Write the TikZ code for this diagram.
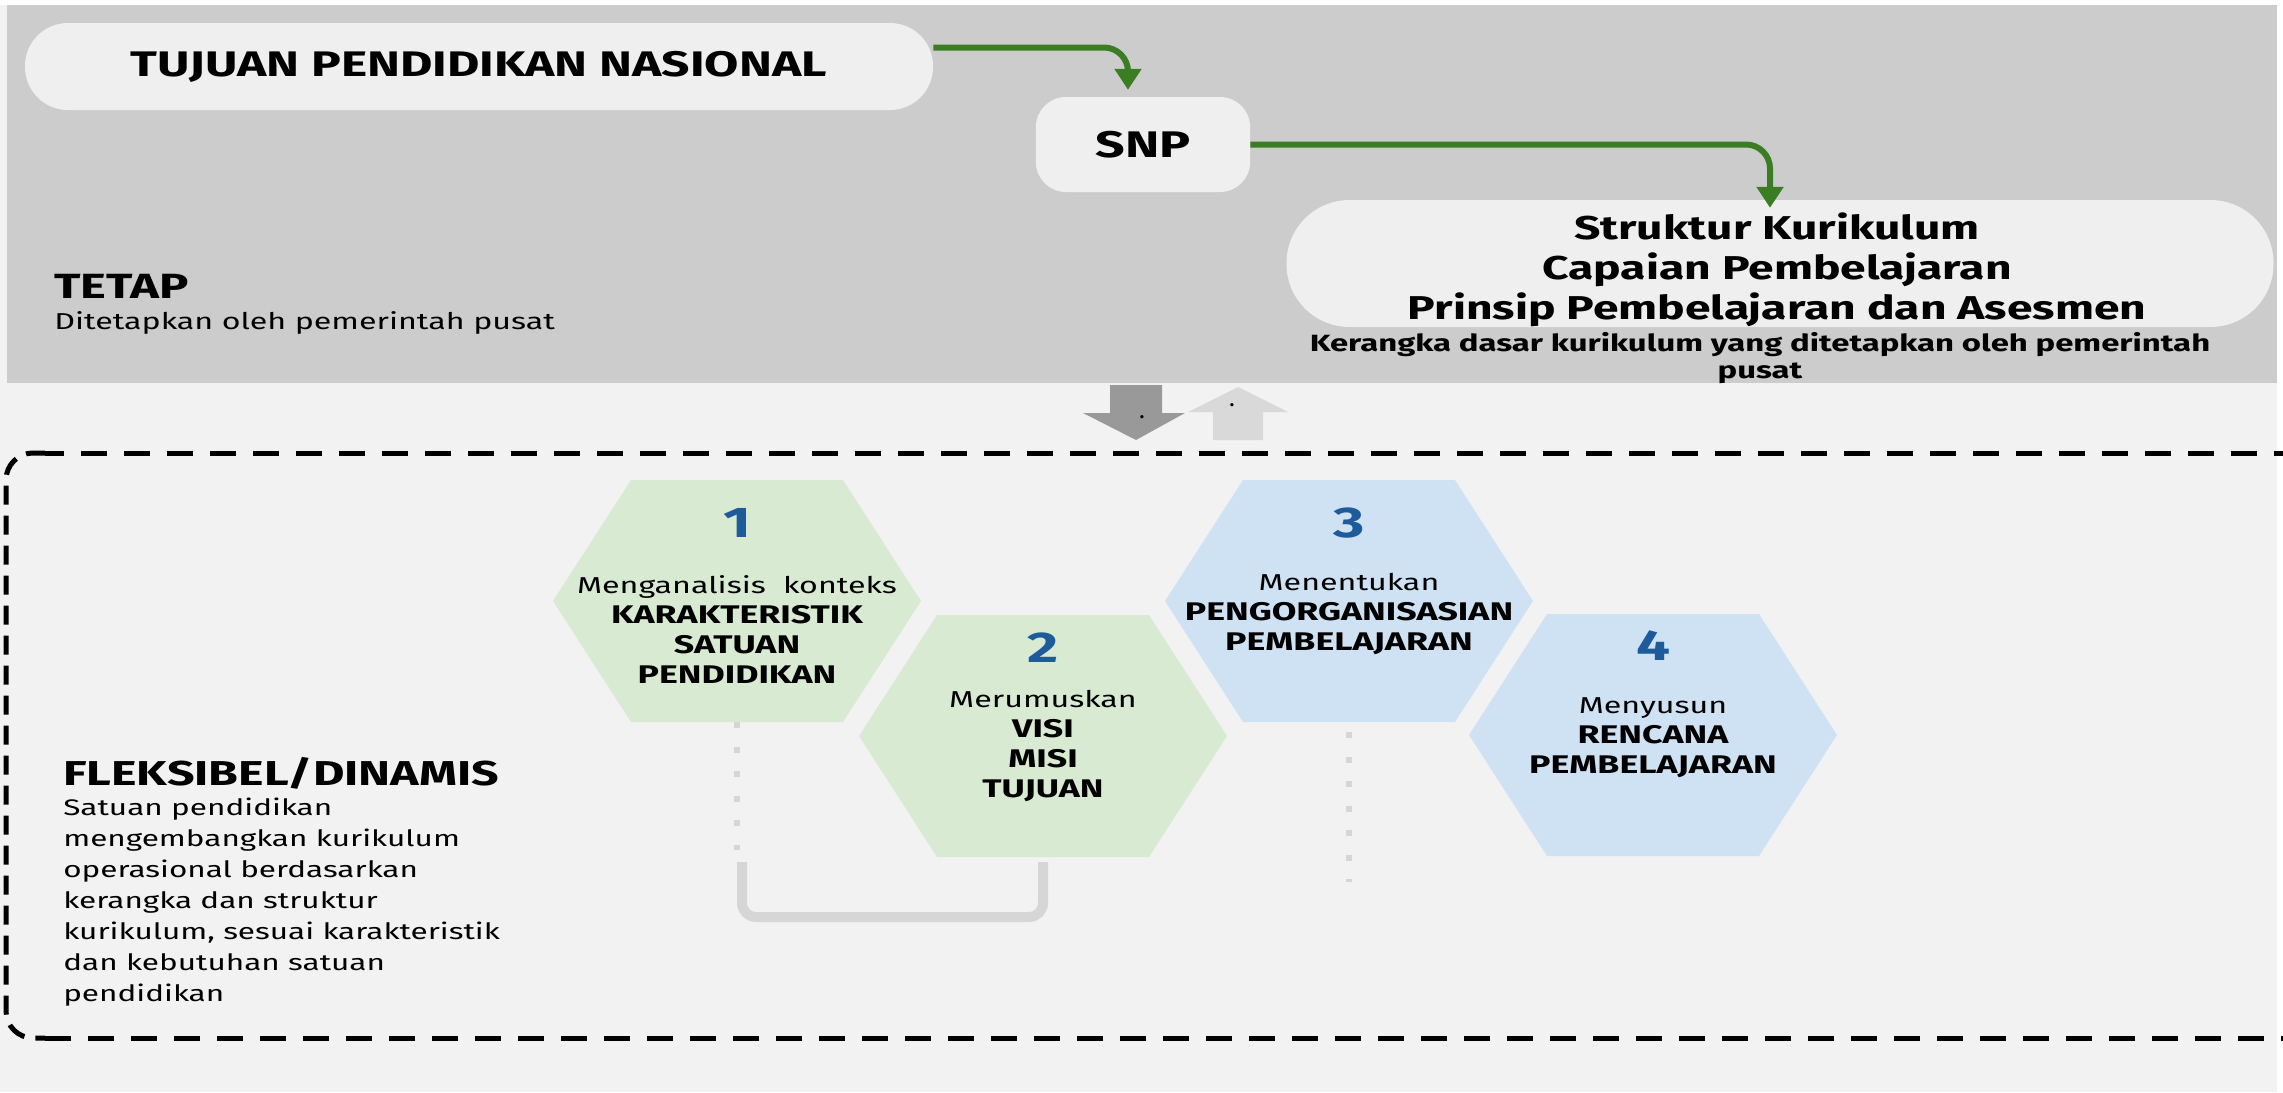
\documentclass[tikz,border=0pt]{standalone}
\usepackage{fontspec}
\setmainfont{Fira Sans}
\usetikzlibrary{arrows.meta,positioning,calc}
\definecolor{topgray}{HTML}{CCCCCC}
\definecolor{lowgray}{HTML}{F2F2F2}
\definecolor{boxgray}{HTML}{EFEFEF}
\definecolor{arrowgreen}{HTML}{3B7D23}
\definecolor{hexgreen}{HTML}{D9EAD3}
\definecolor{hexblue}{HTML}{CFE2F3}
\definecolor{numblue}{HTML}{1D5B9B}
\definecolor{linkgray}{HTML}{D6D6D6}
\newcommand{\hexbold}[1]{{\bfseries\fontsize{25.5}{30}\selectfont #1}}

\begin{document}
\begin{tikzpicture}[x=1pt,y=-1pt,
  wide/.style={xscale=1.4,inner sep=0pt},
  topbox/.style={wide,fill=boxgray,font=\bfseries\fontsize{33}{40}\selectfont},
  garr/.style={-{Triangle[width=26pt,length=21pt]},line width=6pt,draw=arrowgreen,rounded corners=24pt},
  hexnum/.style={wide,text=numblue,font=\bfseries\fontsize{43}{43}\selectfont,anchor=base},
  hextxt/.style={wide,align=center,anchor=north,font=\fontsize{23}{30}\selectfont},
  dashh/.style={line width=5pt,dash pattern=on 26pt off 17pt},
  dashv/.style={line width=5pt,dash pattern=on 19pt off 11pt,rounded corners=27pt},
  dotline/.style={line width=6pt,draw=linkgray,dash pattern=on 6pt off 18.5pt},
  bracket/.style={line width=10pt,draw=linkgray,rounded corners=14pt}]
\useasboundingbox (0,0) rectangle (2283,1092);
% background bands
\fill[white] (0,0) rectangle (2283,1092);
\fill[lowgray] (0,5) rectangle (2277,1092);
\fill[topgray] (7,5) rectangle (2277,383);

% fixed part
\node[topbox,font=\bfseries\fontsize{35.5}{40}\selectfont,minimum width=648.6pt,minimum height=87pt,rounded corners=43pt] (tpn) at (479,66.5) {TUJUAN PENDIDIKAN NASIONAL};
\node[topbox,font=\bfseries\fontsize{37}{40}\selectfont,minimum width=153pt,minimum height=95pt,rounded corners=30pt] (snp) at (1143,144.5) {SNP};
\node[topbox,minimum width=705pt,minimum height=127pt,rounded corners=63pt] (sk) at (1780,263.5) {};
\node[wide,font=\bfseries\fontsize{33}{40}\selectfont,align=center] (sktxt) at (1777,270) {Struktur Kurikulum\\Capaian Pembelajaran\\Prinsip Pembelajaran dan Asesmen};
\node[wide,font=\bfseries\fontsize{23.5}{27}\selectfont,align=center,anchor=north] (skdesc) at ([xshift=-20pt,yshift=-5pt]sk.south) {Kerangka dasar kurikulum yang ditetapkan oleh pemerintah\\pusat};
\draw[garr] ([yshift=19pt]tpn.east) -| ([xshift=-15pt,yshift=7pt]snp.north);
\draw[garr] (snp.east) -| ([xshift=-10pt,yshift=-8pt]sk.north);
\node[wide,font=\bfseries\fontsize{35}{40}\selectfont,anchor=base west] (tetap) at (54,298) {TETAP};
\node[wide,font=\fontsize{23}{28}\selectfont,below=13pt of tetap.south west,anchor=north west] (tetapdesc) {Ditetapkan oleh pemerintah pusat};

% up/down arrows
\fill[black!40] (1110,385) -- (1162,385) -- (1162,413) -- (1185,413) -- (1136,440) -- (1083,413) -- (1110,413) -- cycle;
\fill[black!15] (1213,440) -- (1263,440) -- (1263,412) -- (1288,412) -- (1238,387) -- (1188,412) -- (1213,412) -- cycle;
\node[inner sep=0pt,font=\bfseries\fontsize{18}{18}\selectfont] (dotdown) at (1142,417) {.};
\node[inner sep=0pt,font=\bfseries\fontsize{18}{18}\selectfont] (dotup) at (1232,405) {.};

% flexible part
\draw[dashh] (2300,453) -- (45,453);
\draw[dashv] (45,453) -- (6,453) -- (6,1038) -- (45,1038);
\draw[dashh] (45,1038) -- (2300,1038);
\node[wide,font=\bfseries\fontsize{34.5}{38}\selectfont,anchor=base west] (flex) at (63,785) {FLEKSIBEL/DINAMIS};
\node[wide,font=\fontsize{22.5}{31}\selectfont,align=left,below=9pt of flex.south west,anchor=north west] (flexdesc) {Satuan pendidikan\\mengembangkan kurikulum\\operasional berdasarkan\\kerangka dan struktur\\kurikulum, sesuai karakteristik\\dan kebutuhan satuan\\pendidikan};

\foreach \n/\cx/\cy/\col in {1/737/601/hexgreen,2/1043/736/hexgreen,3/1349/601/hexblue,4/1653/735/hexblue}{
  \fill[\col] (\cx-184,\cy) -- (\cx-106,\cy-121) -- (\cx+106,\cy-121) -- (\cx+184,\cy) -- (\cx+106,\cy+121) -- (\cx-106,\cy+121) -- cycle;
  \coordinate (hex\n) at (\cx,\cy);
}
\node[hexnum] (num1) at (737,537) {1};
\node[hexnum] (num2) at (1043,662) {2};
\node[hexnum] (num3) at (1349,537) {3};
\node[hexnum] (num4) at (1653,660) {4};
\node[hextxt] (txt1) at (737,575) {Menganalisis\ \ konteks\\\hexbold{KARAKTERISTIK}\\\hexbold{SATUAN}\\\hexbold{PENDIDIKAN}};
\node[hextxt] (txt2) at (1043,690) {Merumuskan\\\hexbold{VISI}\\\hexbold{MISI}\\\hexbold{TUJUAN}};
\node[hextxt] (txt3) at (1349,573) {Menentukan\\\hexbold{PENGORGANISASIAN}\\\hexbold{PEMBELAJARAN}};
\node[hextxt] (txt4) at (1653,697) {Menyusun\\\hexbold{RENCANA}\\\hexbold{PEMBELAJARAN}};

\draw[dotline] ([yshift=-121pt]hex1) -- ++(0,128);
\draw[dotline] ([yshift=-131pt]hex3) -- ++(0,150);
\draw[bracket] ([xshift=5pt,yshift=-261pt]hex1) -- ++(0,55) -| ([yshift=-126pt]hex2);
\end{tikzpicture}
\end{document}
